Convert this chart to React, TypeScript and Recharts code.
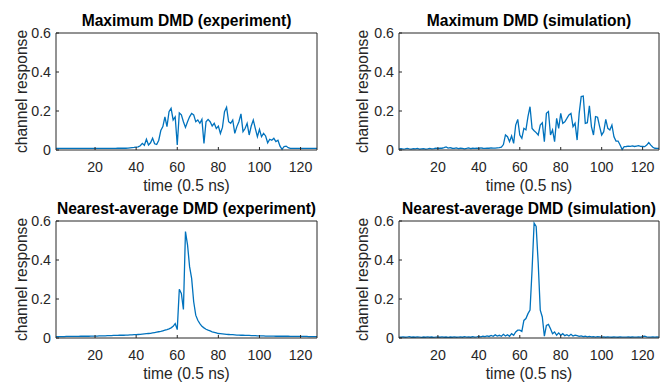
import { Line, LineChart, XAxis, YAxis } from 'recharts'

// Four MATLAB-style panels: boxed axes, inward ticks, one blue trace each.
const X_TICKS = [20, 40, 60, 80, 100, 120]
const Y_TICKS = [0, 0.2, 0.4, 0.6]

const maxExperiment = [
  0.008, 0.008, 0.008, 0.008, 0.008, 0.008, 0.008, 0.008, 0.008, 0.008,
  0.008, 0.008, 0.008, 0.008, 0.008, 0.008, 0.008, 0.008, 0.008, 0.008,
  0.008, 0.008, 0.008, 0.008, 0.008, 0.008, 0.008, 0.008, 0.008, 0.008,
  0.009, 0.009, 0.009, 0.009, 0.009, 0.01, 0.011, 0.012, 0.013, 0.015,
  0.016, 0.022, 0.034, 0.024, 0.055, 0.026, 0.037, 0.06, 0.032, 0.028,
  0.05, 0.1, 0.12, 0.17, 0.12, 0.196, 0.214, 0.154, 0.17, 0.026,
  0.19, 0.18, 0.145, 0.116, 0.145, 0.17, 0.188, 0.18, 0.145, 0.154,
  0.137, 0.157, 0.034, 0.145, 0.157, 0.145, 0.123, 0.137, 0.11, 0.123,
  0.085, 0.116, 0.196, 0.219, 0.145, 0.137, 0.154, 0.085, 0.12, 0.145,
  0.185, 0.094, 0.11, 0.137, 0.077, 0.123, 0.154, 0.11, 0.068, 0.106,
  0.068, 0.085, 0.072, 0.037, 0.055, 0.05, 0.06, 0.043, 0.05, 0.02,
  0.003, 0.018, 0.02, 0.012, 0.008, 0.008, 0.008, 0.008, 0.008, 0.008,
  0.008, 0.008, 0.008, 0.008, 0.008, 0.008, 0.008, 0.008,
]

const maxSimulation = [
  0.006, 0.007, 0.005, 0.006, 0.008, 0.006, 0.005, 0.007, 0.006, 0.008,
  0.005, 0.006, 0.007, 0.005, 0.006, 0.008, 0.006, 0.007, 0.009, 0.008,
  0.01, 0.009, 0.012, 0.016, 0.01, 0.012, 0.009, 0.008, 0.011, 0.007,
  0.009, 0.008, 0.006, 0.008, 0.011, 0.007, 0.009, 0.008, 0.01, 0.008,
  0.011, 0.009, 0.008, 0.01, 0.009, 0.011, 0.01, 0.01, 0.011, 0.012,
  0.015, 0.028, 0.077, 0.068, 0.043, 0.072, 0.034, 0.128, 0.157, 0.077,
  0.06, 0.111, 0.103, 0.171, 0.222, 0.111, 0.099, 0.089, 0.077, 0.128,
  0.14, 0.043, 0.188, 0.197, 0.077, 0.103, 0.043, 0.162, 0.111, 0.188,
  0.137, 0.145, 0.162, 0.18, 0.188, 0.12, 0.137, 0.051, 0.188, 0.274,
  0.277, 0.137, 0.14, 0.226, 0.12, 0.077, 0.171, 0.168, 0.12, 0.077,
  0.094, 0.157, 0.111, 0.103, 0.128, 0.068, 0.046, 0.046, 0.026, 0.003,
  0.017, 0.018, 0.02, 0.019, 0.021, 0.018, 0.02, 0.022, 0.019, 0.018,
  0.017, 0.025, 0.038, 0.025, 0.014, 0.009, 0.008, 0.008,
]

const nearestExperiment = [
  0.007, 0.007, 0.007, 0.007, 0.007, 0.008, 0.008, 0.008, 0.008, 0.008,
  0.008, 0.008, 0.009, 0.009, 0.009, 0.009, 0.009, 0.01, 0.01, 0.01,
  0.01, 0.011, 0.011, 0.011, 0.011, 0.012, 0.012, 0.012, 0.013, 0.013,
  0.013, 0.014, 0.014, 0.014, 0.015, 0.015, 0.016, 0.016, 0.017, 0.017,
  0.018, 0.019, 0.02, 0.021, 0.022, 0.023, 0.024, 0.026, 0.028, 0.03,
  0.032, 0.034, 0.037, 0.04, 0.043, 0.047, 0.052, 0.06, 0.074, 0.043,
  0.25, 0.228, 0.146, 0.546, 0.478, 0.366, 0.306, 0.186, 0.117, 0.091,
  0.074, 0.06, 0.052, 0.045, 0.04, 0.036, 0.032, 0.029, 0.026, 0.023,
  0.022, 0.021, 0.02, 0.019, 0.018, 0.017, 0.017, 0.016, 0.015, 0.015,
  0.014, 0.014, 0.013, 0.013, 0.013, 0.012, 0.012, 0.012, 0.011, 0.011,
  0.011, 0.011, 0.01, 0.01, 0.01, 0.01, 0.01, 0.009, 0.009, 0.009,
  0.009, 0.009, 0.009, 0.009, 0.008, 0.008, 0.008, 0.008, 0.008, 0.008,
  0.008, 0.008, 0.008, 0.007, 0.007, 0.007, 0.007, 0.007,
]

const nearestSimulation = [
  0.005, 0.004, 0.006, 0.004, 0.005, 0.007, 0.004, 0.005, 0.004, 0.006,
  0.005, 0.003, 0.005, 0.004, 0.006, 0.004, 0.005, 0.003, 0.004, 0.005,
  0.004, 0.006, 0.004, 0.005, 0.003, 0.005, 0.004, 0.006, 0.004, 0.005,
  0.006, 0.004, 0.007, 0.005, 0.006, 0.004, 0.007, 0.005, 0.006, 0.008,
  0.006, 0.009, 0.007, 0.011, 0.008, 0.013, 0.009, 0.016, 0.01, 0.014,
  0.009, 0.019, 0.01, 0.017, 0.009, 0.022, 0.014, 0.031, 0.04, 0.04,
  0.034, 0.09, 0.1, 0.125, 0.143, 0.35, 0.589, 0.572, 0.383, 0.143,
  0.108, 0.009, 0.065, 0.07, 0.048, 0.022, 0.031, 0.014, 0.026, 0.014,
  0.022, 0.012, 0.017, 0.01, 0.019, 0.01, 0.015, 0.012, 0.008, 0.011,
  0.007, 0.009, 0.006, 0.008, 0.006, 0.007, 0.005, 0.007, 0.006, 0.005,
  0.006, 0.004, 0.006, 0.005, 0.004, 0.006, 0.005, 0.004, 0.006, 0.005,
  0.004, 0.005, 0.006, 0.004, 0.005, 0.004, 0.005, 0.006, 0.005, 0.007,
  0.009, 0.006, 0.005, 0.004, 0.005, 0.004, 0.005, 0.004,
]

const FONT = '"Liberation Sans", Arial, Helvetica, sans-serif'
const AXIS_COLOR = '#262626'
const LINE_COLOR = '#0072BD'

interface PanelProps {
  title: string
  values: number[]
  left: number
  top: number
  width: number
  height: number
  // plot box inside the panel
  plot: { top: number; right: number; bottom: number; left: number }
  yLabelOffset: number
}

// axes need a non-zero size or recharts skips drawing them, so each one gets 1px
function Panel({ title, values, left, top, width, height, plot, yLabelOffset }: PanelProps) {
  const data = values.map((v, i) => ({ t: i + 1, v }))
  const margin = {
    top: plot.top - 1,
    right: plot.right - 1,
    bottom: plot.bottom - 1,
    left: plot.left - 1,
  }
  return (
    <div style={{ position: 'absolute', left, top, width, height }}>
      <LineChart width={width} height={height} data={data} margin={margin}>
        <XAxis
          xAxisId="bottom"
          dataKey="t"
          type="number"
          domain={[1, 128]}
          ticks={X_TICKS}
          interval={0}
          height={1}
          tickSize={-3}
          tickMargin={15}
          axisLine={{ stroke: AXIS_COLOR }}
          tickLine={{ stroke: AXIS_COLOR }}
          tick={{ fontSize: 14.2, fill: AXIS_COLOR }}
          label={{ value: 'time (0.5 ns)', position: 'bottom', offset: 29, fontSize: 15.6, fill: AXIS_COLOR }}
        />
        {/* top edge of the box: ticks only, title rides on its label */}
        <XAxis
          xAxisId="top"
          orientation="top"
          dataKey="t"
          type="number"
          domain={[1, 128]}
          ticks={X_TICKS}
          interval={0}
          height={1}
          tickSize={-3}
          tick={false}
          axisLine={{ stroke: AXIS_COLOR }}
          tickLine={{ stroke: AXIS_COLOR }}
          label={{ value: title, position: 'top', offset: 6, fontSize: 15.6, fontWeight: 'bold', fill: '#000' }}
        />
        <YAxis
          yAxisId="left"
          type="number"
          domain={[0, 0.6]}
          ticks={Y_TICKS}
          interval={0}
          width={1}
          tickSize={-3}
          tickMargin={8}
          axisLine={{ stroke: AXIS_COLOR }}
          tickLine={{ stroke: AXIS_COLOR }}
          tick={{ fontSize: 14.2, fill: AXIS_COLOR }}
          tickFormatter={(v: number) => (v === 0 ? '0' : v.toFixed(1))}
          label={{
            value: 'channel response',
            angle: -90,
            position: 'insideLeft',
            offset: yLabelOffset + 1,
            style: { textAnchor: 'middle' },
            fontSize: 15.6,
            fill: AXIS_COLOR,
          }}
        />
        <YAxis
          yAxisId="right"
          orientation="right"
          type="number"
          domain={[0, 0.6]}
          ticks={Y_TICKS}
          interval={0}
          width={1}
          tickSize={-3}
          tick={false}
          axisLine={{ stroke: AXIS_COLOR }}
          tickLine={{ stroke: AXIS_COLOR }}
        />
        <Line
          xAxisId="bottom"
          yAxisId="left"
          type="linear"
          dataKey="v"
          stroke={LINE_COLOR}
          strokeWidth={1.3}
          dot={false}
          isAnimationActive={false}
        />
      </LineChart>
    </div>
  )
}

export default function App() {
  // top panels are drawn taller than their grid cell so the x label is not cut;
  // their svg is transparent, so the lower panels still show through
  return (
    <div
      style={{
        position: 'absolute',
        left: 0,
        top: 0,
        width: 671,
        height: 385,
        background: '#fff',
        fontFamily: FONT,
        overflow: 'hidden',
      }}
    >
      <Panel
        title="Maximum DMD (experiment)"
        values={maxExperiment}
        left={0}
        top={0}
        width={335}
        height={205}
        plot={{ top: 33, left: 56, right: 18, bottom: 55 }}
        yLabelOffset={-35}
      />
      <Panel
        title="Maximum DMD (simulation)"
        values={maxSimulation}
        left={335}
        top={0}
        width={336}
        height={205}
        plot={{ top: 33, left: 64, right: 12, bottom: 55 }}
        yLabelOffset={-37}
      />
      <Panel
        title="Nearest-average DMD (experiment)"
        values={nearestExperiment}
        left={0}
        top={192}
        width={335}
        height={193}
        plot={{ top: 29, left: 56, right: 18, bottom: 47 }}
        yLabelOffset={-35}
      />
      <Panel
        title="Nearest-average DMD (simulation)"
        values={nearestSimulation}
        left={335}
        top={192}
        width={336}
        height={193}
        plot={{ top: 29, left: 64, right: 12, bottom: 47 }}
        yLabelOffset={-37}
      />
    </div>
  )
}
